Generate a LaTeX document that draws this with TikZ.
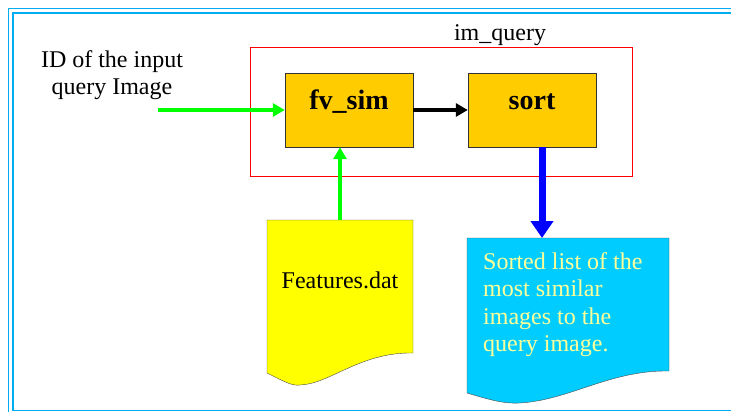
\documentclass[tikz,border=0pt]{standalone}
\usepackage{fontspec}
\setmainfont{Liberation Serif}
\usetikzlibrary{arrows.meta}
\definecolor{boxgold}{HTML}{FFCC00}
\definecolor{docyellow}{HTML}{FFFF00}
\definecolor{docblue}{HTML}{00CCFF}
\definecolor{listtext}{HTML}{FFFF99}
\definecolor{feedgreen}{HTML}{00FF00}
\begin{document}
\begin{tikzpicture}[x=1pt,y=-1pt,
  proc/.style={draw=black!80, fill=boxgold, minimum width=128pt, minimum height=74pt, inner sep=0pt,
    font=\fontsize{28}{32}\selectfont\bfseries, text height=18pt, text depth=20pt},
  txt/.style={font=\fontsize{24}{27.5}\selectfont, inner sep=0pt},
  feed/.style={feedgreen, line width=4pt, -{Triangle[length=12pt,width=13pt]}}]
\useasboundingbox (0,0) rectangle (731,412);
\draw[cyan, line width=1.5pt] (8.5,412) -- (8.5,8.5) -- (731,8.5);
\draw[cyan, line width=1.5pt] (731,13) -- (13,13) -- (13,410.5) -- (731,410.5);
\node[draw=red, line width=0.8pt, minimum width=382pt, minimum height=129pt, inner sep=0pt] (imquery) at (441,111.5) {};
\node[txt, anchor=base] (imlabel) at (500,41) {im\_query};
\node[proc] (fvsim) at (349,110) {fv\_sim};
\node[proc] (sort) at (532,110) {sort};
\node[txt, align=center] (input) at (112,75) {ID of the input\\query Image};
\coordinate (inputend) at (158,110);
\draw[feed] (inputend) -- (fvsim.west);
\draw[line width=4pt, -{Triangle[length=12pt,width=13pt]}] (fvsim) -- (sort);
\draw[draw=black!70, fill=docyellow] (267,220) -- (413,220) -- (413,353)
  .. controls (360,352) and (330,384) .. (300,385)
  .. controls (292,386) and (285,382) .. (267,373) -- cycle;
\node[txt] (features) at (340,280) {Features.dat};
\coordinate (featurestop) at (340,220);
\draw[feed] (featurestop) -- (fvsim.south -| featurestop);
\draw[draw=black!70, fill=docblue] (467,238) -- (669,238) -- (669,371)
  .. controls (610,370) and (570,400) .. (520,403)
  .. controls (505,404) and (490,400) .. (467,393) -- cycle;
\node[txt, text=listtext, align=left, anchor=north west] (result) at (483,252) {Sorted list of the\\most similar\\images to the\\query image.};
\coordinate (resulttop) at (542,238);
\draw[blue, line width=7pt, -{Triangle[length=17pt,width=22pt]}] (sort.south -| resulttop) -- (resulttop);
\end{tikzpicture}
\end{document}
